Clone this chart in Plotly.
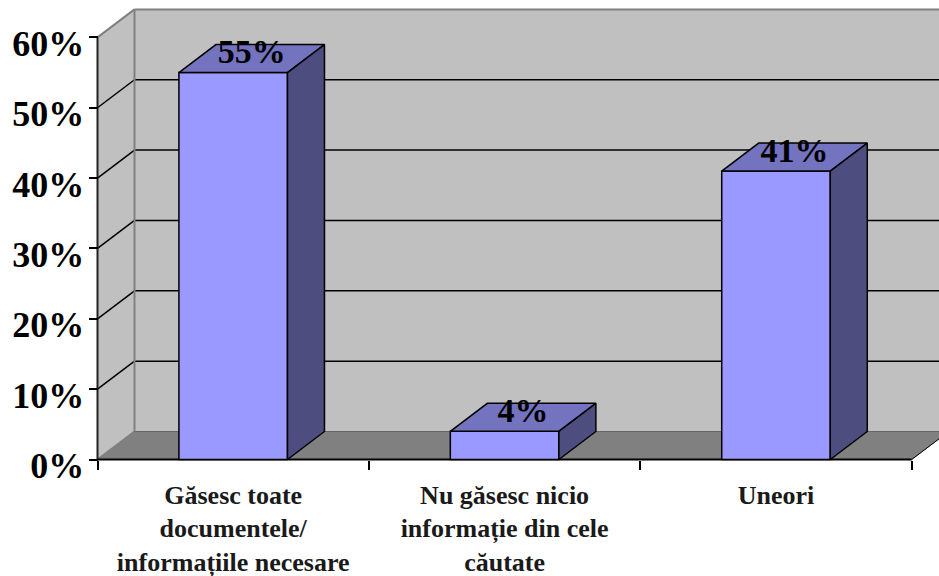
import plotly.graph_objects as go

# Survey answers and their shares in percent
categories = [
    "Găsesc toate<br>documentele/<br>informațiile necesare",
    "Nu găsesc nicio<br>informație din cele<br>căutate",
    "Uneori",
]
shares = [55, 4, 41]
value_ticks = [0, 10, 20, 30, 40, 50, 60]

# Chart geometry in pixels, converted to data units below
WIDTH, HEIGHT = 939, 576
X0_PX, Y0_PX = 97.5, 459.5
CAT_PX, PCT_PX = 271.4, 7.035
DEPTH_X_PX, DEPTH_Y_PX = 37, 28

BAR_W = 0.4
DX = DEPTH_X_PX / CAT_PX
DY = DEPTH_Y_PX / PCT_PX
TOP = value_ticks[-1]
COUNT = len(categories)

FONT = "Liberation Serif"
FRONT, ROOF, SIDE = "#9999FF", "#7373BF", "#4D4D80"
WALL, FLOOR, EDGE = "#C0C0C0", "#808080", "#808080"


def poly(points, fill, line=None, width=1):
    path = "M" + " L".join(f"{x},{y}" for x, y in points) + " Z"
    return dict(type="path", path=path, xref="x", yref="y", layer="below",
                fillcolor=fill, line=dict(color=line or fill, width=width))


def seg(x0, y0, x1, y1, color="black", width=1.5):
    return dict(type="line", x0=x0, y0=y0, x1=x1, y1=y1, xref="x", yref="y",
                layer="below", line=dict(color=color, width=width))


shapes = [
    # back wall, side wall and floor
    poly([(DX, DY), (COUNT + DX, DY), (COUNT + DX, TOP + DY), (DX, TOP + DY)], WALL),
    poly([(0, 0), (DX, DY), (DX, TOP + DY), (0, TOP)], WALL),
    poly([(0, 0), (COUNT, 0), (COUNT + DX, DY), (DX, DY)], FLOOR),
]
# gridlines run along the back wall and fold onto the side wall
for v in value_ticks[1:-1]:
    shapes.append(seg(DX, v + DY, COUNT + DX, v + DY))
    shapes.append(seg(0, v, DX, v + DY))
shapes += [
    seg(DX, DY, DX, TOP + DY, EDGE, 2),
    seg(DX, TOP + DY, COUNT + DX, TOP + DY, EDGE, 2),
    seg(0, TOP, DX, TOP + DY, EDGE, 2),
    seg(0, 0, DX, DY, EDGE, 2),
    seg(DX, DY, COUNT + DX, DY, "#666666", 1),
    seg(COUNT, 0, COUNT + DX, DY, "black", 1),
    seg(0, 0, 0, TOP, "#222222", 2),
    seg(0, 0, COUNT, 0, "black", 2),
]

centers = [i + 0.5 for i in range(COUNT)]
fig = go.Figure()

# front faces
fig.add_trace(go.Bar(
    x=centers, y=shares, width=BAR_W,
    marker=dict(color=FRONT, line=dict(color="black", width=1.5)),
    hoverinfo="skip", showlegend=False,
))

# roof and side faces of each bar
for c, v in zip(centers, shares):
    left, right = c - BAR_W / 2, c + BAR_W / 2
    fig.add_trace(go.Scatter(
        x=[left, right, right + DX, left + DX, left],
        y=[v, v, v + DY, v + DY, v],
        mode="lines", fill="toself", fillcolor=ROOF,
        line=dict(color="black", width=1.5),
        hoverinfo="skip", showlegend=False,
    ))
    fig.add_trace(go.Scatter(
        x=[right, right + DX, right + DX, right, right],
        y=[0, DY, v + DY, v, 0],
        mode="lines", fill="toself", fillcolor=SIDE,
        line=dict(color="black", width=1.5),
        hoverinfo="skip", showlegend=False,
    ))

# value labels sit on the bar roofs
fig.add_trace(go.Scatter(
    x=[c + DX / 2 for c in centers],
    y=[v + DY * 0.64 for v in shares],
    mode="text",
    text=[f"<b>{v}%</b>" for v in shares],
    textposition="middle center",
    textfont=dict(family=FONT, size=34, color="black"),
    hoverinfo="skip", showlegend=False,
))

fig.update_layout(
    width=WIDTH, height=HEIGHT,
    margin=dict(l=0, r=0, t=0, b=0),
    paper_bgcolor="white", plot_bgcolor="white",
    shapes=shapes,
    xaxis=dict(
        domain=[0, 1], automargin=False,
        range=[-X0_PX / CAT_PX, (WIDTH - X0_PX) / CAT_PX],
        anchor="free", position=(HEIGHT - Y0_PX) / HEIGHT,
        showgrid=False, zeroline=False, showline=False,
        tickmode="array", tickvals=centers,
        ticktext=[f"<b>{c}</b>" for c in categories],
        ticks="", ticklabelstandoff=17,
        tickfont=dict(family=FONT, size=26, color="#1a1a1a"),
        minor=dict(tickmode="array", tickvals=list(range(COUNT + 1)),
                   ticks="outside", ticklen=9, tickwidth=1.5, tickcolor="black"),
    ),
    yaxis=dict(
        domain=[0, 1], automargin=False,
        range=[(Y0_PX - HEIGHT) / PCT_PX, Y0_PX / PCT_PX],
        anchor="free", position=X0_PX / WIDTH,
        showgrid=False, zeroline=False, showline=False,
        tickmode="array", tickvals=value_ticks,
        ticktext=[f"<b>{v}%</b>" for v in value_ticks],
        ticks="outside", ticklen=9, tickwidth=1.5, tickcolor="black",
        ticklabelshift=6, ticklabelstandoff=-3,
        tickfont=dict(family=FONT, size=36, color="black"),
    ),
)

fig.write_html("out.html", config=dict(displayModeBar=False))
